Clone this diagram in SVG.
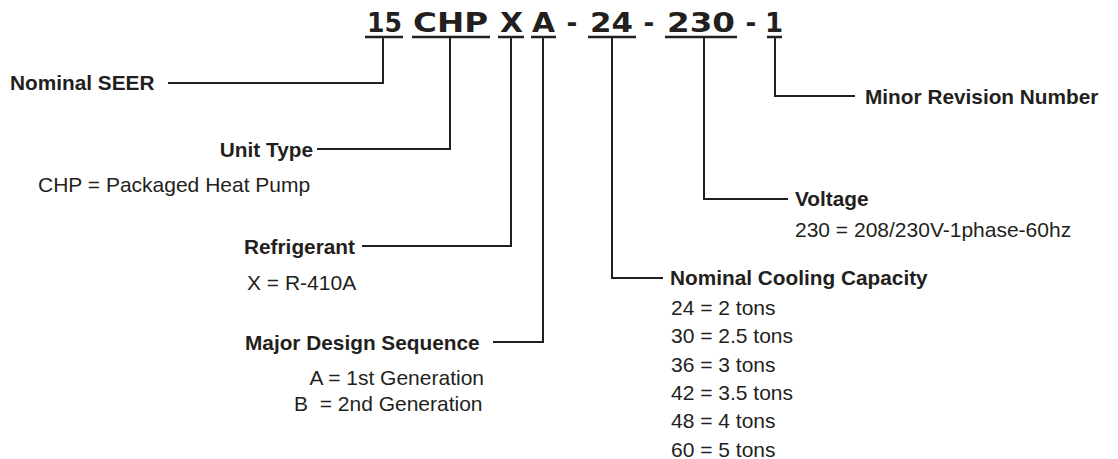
<svg xmlns="http://www.w3.org/2000/svg" width="1118" height="459" viewBox="0 0 1118 459">
<style>
.hd{font-family:"DejaVu Sans",sans-serif;font-weight:bold;font-size:26px;fill:#231f20;text-anchor:middle}
.b{font-family:"Liberation Sans",Arial,sans-serif;font-weight:bold;font-size:20.8px;fill:#231f20}
.r{font-family:"Liberation Sans",Arial,sans-serif;font-size:21px;fill:#231f20;white-space:pre}
.e{text-anchor:end}
.ul{stroke:#231f20;stroke-width:2.5;fill:none}
.cn{stroke:#231f20;stroke-width:2;fill:none}
</style>
<rect width="1118" height="459" fill="#fff"/>
<g id="model-code">
<text class="hd" x="384.5" y="32" textLength="35" lengthAdjust="spacingAndGlyphs">15</text>
<text class="hd" x="450.5" y="32" textLength="75" lengthAdjust="spacingAndGlyphs">CHP</text>
<text class="hd" x="511.5" y="32" textLength="23" lengthAdjust="spacingAndGlyphs">X</text>
<text class="hd" x="543.5" y="32" textLength="23" lengthAdjust="spacingAndGlyphs">A</text>
<text class="hd" x="572" y="32">-</text>
<text class="hd" x="611.5" y="32" textLength="43" lengthAdjust="spacingAndGlyphs">24</text>
<text class="hd" x="649" y="32">-</text>
<text class="hd" x="701" y="32" textLength="68" lengthAdjust="spacingAndGlyphs">230</text>
<text class="hd" x="751" y="32">-</text>
<text class="hd" x="774" y="32">1</text>
<line class="ul" x1="365" y1="37" x2="403" y2="37"/>
<line class="ul" x1="412" y1="37" x2="490" y2="37"/>
<line class="ul" x1="498" y1="37" x2="524" y2="37"/>
<line class="ul" x1="531" y1="37" x2="556" y2="37"/>
<line class="ul" x1="588" y1="37" x2="636" y2="37"/>
<line class="ul" x1="665" y1="37" x2="737" y2="37"/>
<line class="ul" x1="767" y1="37" x2="782" y2="37"/>
</g>
<g id="connectors">
<path class="cn" d="M383,37 V83 H168"/>
<path class="cn" d="M450,37 V149 H317"/>
<path class="cn" d="M511,37 V246 H362"/>
<path class="cn" d="M543,37 V342 H493"/>
<path class="cn" d="M612,37 V278 H663"/>
<path class="cn" d="M704,37 V199 H788"/>
<path class="cn" d="M775,37 V96 H855"/>
</g>
<g id="nominal-seer">
<text class="b" x="10" y="90">Nominal SEER</text>
</g>
<g id="unit-type">
<text class="b e" x="313" y="157">Unit Type</text>
<text class="r" x="38" y="192">CHP = Packaged Heat Pump</text>
</g>
<g id="refrigerant">
<text class="b" x="244" y="254">Refrigerant</text>
<text class="r" x="247" y="290">X = R-410A</text>
</g>
<g id="major-design">
<text class="b" x="245" y="350">Major Design Sequence</text>
<text class="r e" x="484" y="385">A = 1st Generation</text>
<text class="r" x="294" y="411">B  = 2nd Generation</text>
</g>
<g id="cooling-capacity">
<text class="b" x="670" y="285">Nominal Cooling Capacity</text>
<text class="r" x="671" y="315">24 = 2 tons</text>
<text class="r" x="671" y="343">30 = 2.5 tons</text>
<text class="r" x="671" y="372">36 = 3 tons</text>
<text class="r" x="671" y="400">42 = 3.5 tons</text>
<text class="r" x="671" y="428">48 = 4 tons</text>
<text class="r" x="671" y="457">60 = 5 tons</text>
</g>
<g id="voltage">
<text class="b" x="795" y="206">Voltage</text>
<text class="r" x="795" y="237">230 = 208/230V-1phase-60hz</text>
</g>
<g id="minor-revision">
<text class="b" x="865" y="104">Minor Revision Number</text>
</g>
</svg>
